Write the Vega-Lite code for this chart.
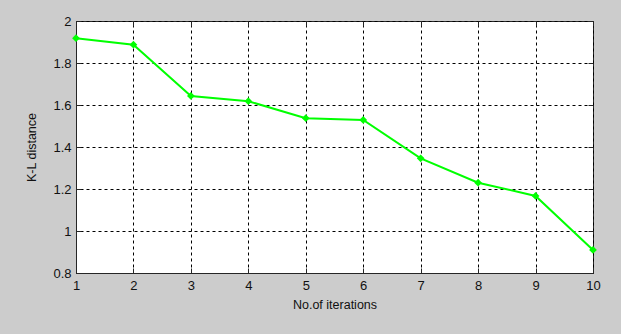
{
  "$schema": "https://vega.github.io/schema/vega-lite/v6.json",
  "width": 517,
  "height": 252,
  "autosize": {"type": "none"},
  "padding": {"left": 76, "top": 21, "right": 28, "bottom": 61},
  "background": "#cccccc",
  "config": {
    "view": {"fill": "white", "stroke": "#262626", "strokeWidth": 1},
    "axis": {
      "labelFont": "Liberation Sans",
      "titleFont": "Liberation Sans",
      "labelFontSize": 13,
      "titleFontSize": 12.5,
      "titleFontWeight": "normal",
      "labelColor": "#111111",
      "titleColor": "#111111",
      "domainColor": "#262626",
      "tickColor": "#262626",
      "gridColor": "#000000",
      "gridOpacity": 1,
      "gridDash": [3, 3],
      "gridWidth": 1
    }
  },
  "data": {
    "values": [
      {"iter": 1, "kl": 1.918},
      {"iter": 2, "kl": 1.887},
      {"iter": 3, "kl": 1.643},
      {"iter": 4, "kl": 1.618},
      {"iter": 5, "kl": 1.537},
      {"iter": 6, "kl": 1.529},
      {"iter": 7, "kl": 1.346},
      {"iter": 8, "kl": 1.23},
      {"iter": 9, "kl": 1.167},
      {"iter": 10, "kl": 0.91}
    ]
  },
  "layer": [
    {
      "mark": {"type": "rule", "opacity": 0},
      "encoding": {
        "x": {
          "field": "iter", "type": "quantitative",
          "scale": {"domain": [1, 10], "nice": false, "zero": false},
          "axis": {"orient": "top", "values": [1,2,3,4,5,6,7,8,9,10], "labels": false, "grid": true, "title": null, "tickSize": -5, "domain": false}
        },
        "y": {
          "field": "kl", "type": "quantitative",
          "scale": {"domain": [0.8, 2], "nice": false, "zero": false},
          "axis": {"orient": "right", "values": [0.8,1,1.2,1.4,1.6,1.8,2], "labels": false, "grid": true, "title": null, "tickSize": -5, "domain": false}
        }
      }
    },
    {
      "mark": {
        "type": "line",
        "color": "#00ff00",
        "strokeWidth": 2,
        "point": {"shape": "diamond", "filled": true, "size": 60, "color": "#00ff00"}
      },
      "encoding": {
        "x": {
          "field": "iter", "type": "quantitative",
          "scale": {"domain": [1, 10], "nice": false, "zero": false},
          "axis": {"orient": "bottom", "values": [1,2,3,4,5,6,7,8,9,10], "grid": false, "title": "No.of iterations", "tickSize": -5, "labelPadding": 11, "titlePadding": 6, "labelFlush": false}
        },
        "y": {
          "field": "kl", "type": "quantitative",
          "scale": {"domain": [0.8, 2], "nice": false, "zero": false},
          "axis": {"orient": "left", "values": [0.8,1,1.2,1.4,1.6,1.8,2], "grid": false, "format": ".1~f", "title": "K-L distance", "tickSize": -5, "labelPadding": 10, "titlePadding": 14, "labelFlush": false}
        }
      }
    }
  ],
  "resolve": {"axis": {"x": "independent", "y": "independent"}}
}
